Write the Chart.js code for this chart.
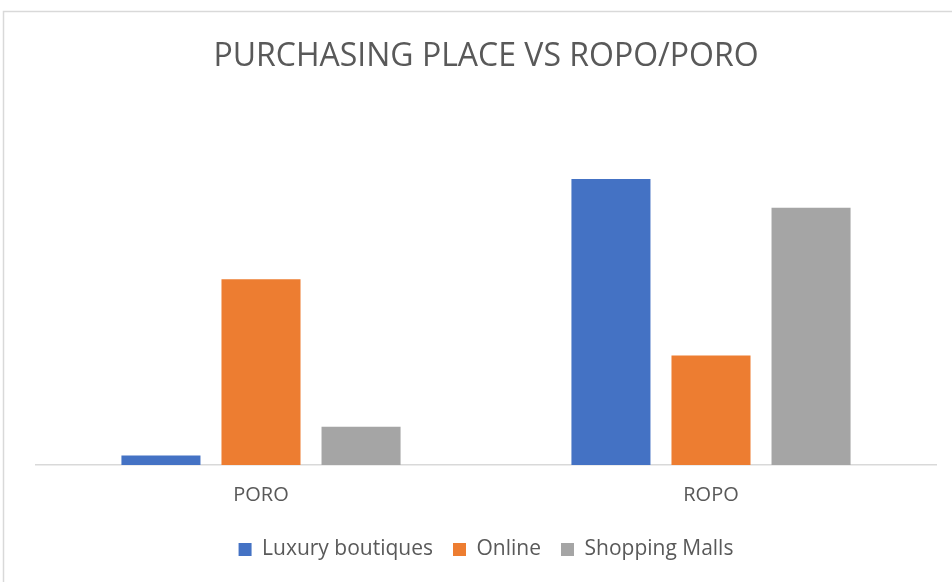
<!DOCTYPE html>
<html>
<head>
<meta charset="utf-8">
<script src="https://cdn.jsdelivr.net/npm/chart.js@4.4.1/dist/chart.umd.min.js"></script>
<style>
  html, body { margin: 0; padding: 0; background: #fff; overflow: hidden; }
  #wrap { width: 952px; height: 582px; }
</style>
</head>
<body>
<div id="wrap"><canvas id="chart" width="952" height="582"></canvas></div>
<script>
const categories = ["PORO", "ROPO"];
const luxuryBoutiques = [2, 60];
const online = [39, 23];
const shoppingMalls = [8, 54];

const textColor = "#595959";

// white background + the light frame that runs off the right/bottom edge
const frame = {
  id: "frame",
  beforeDraw(chart) {
    const c = chart.ctx;
    c.save();
    c.fillStyle = "#fff";
    c.fillRect(0, 0, chart.width, chart.height);
    c.strokeStyle = "#d9d9d9";
    c.lineWidth = 1.5;
    c.strokeRect(3.5, 11.5, chart.width + 20, chart.height + 20);
    c.restore();
  },
};

const ctx = document.getElementById("chart").getContext("2d");

new Chart(ctx, {
  type: "bar",
  data: {
    labels: categories,
    datasets: [
      { label: "Luxury boutiques", data: luxuryBoutiques, backgroundColor: "#4472C4" },
      { label: "Online", data: online, backgroundColor: "#ED7D31" },
      { label: "Shopping Malls", data: shoppingMalls, backgroundColor: "#A5A5A5" },
    ],
  },
  options: {
    responsive: false,
    animation: false,
    categoryPercentage: 0.667,
    barPercentage: 0.79,
    layout: { padding: { left: 36, right: 16, top: 0, bottom: 12 } },
    plugins: {
      title: {
        display: true,
        text: "PURCHASING PLACE VS ROPO/PORO",
        color: textColor,
        font: { family: "Open Sans", size: 32, weight: "normal" },
        padding: { top: 38, bottom: 55 },
      },
      legend: {
        position: "bottom",
        labels: {
          color: textColor,
          font: { family: "Open Sans", size: 21 },
          boxWidth: 13,
          boxHeight: 13,
          padding: 20,
        },
      },
      tooltip: { enabled: false },
    },
    scales: {
      x: {
        grid: { display: false, drawTicks: false },
        border: { display: true, color: "#d9d9d9", width: 1.5 },
        ticks: {
          color: textColor,
          font: { family: "Open Sans", size: 20 },
          padding: 18,
        },
        // pull the legend a bit closer to the category labels
        afterFit(scale) {
          scale.height -= 6;
        },
      },
      y: {
        display: false,
        min: 0,
        max: 70,
      },
    },
  },
  plugins: [frame],
});
</script>
</body>
</html>
